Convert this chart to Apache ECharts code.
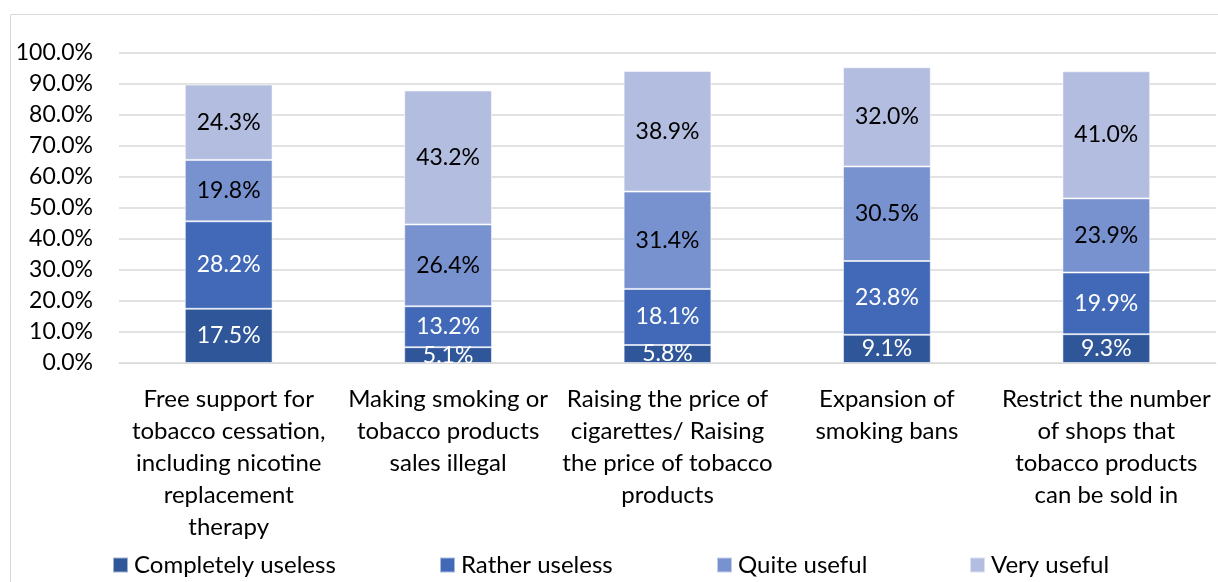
<!DOCTYPE html>
<html>
<head>
<meta charset="utf-8">
<script src="https://cdn.jsdelivr.net/npm/echarts@6/dist/echarts.min.js"></script>
<style>
  html, body { margin: 0; padding: 0; background: #fff; }
  #chart { width: 1218px; height: 582px; }
</style>
</head>
<body>
<div id="chart"></div>
<script>
// Categories (line breaks as shown under the axis)
const categories = [
  'Free support for\ntobacco cessation,\nincluding nicotine\nreplacement\ntherapy',
  'Making smoking or\ntobacco products\nsales illegal',
  'Raising the price of\ncigarettes/ Raising\nthe price of tobacco\nproducts',
  'Expansion of\nsmoking bans',
  'Restrict the number\nof shops that\ntobacco products\ncan be sold in'
];

// Share of respondents (%) per answer
const completelyUseless = [17.5, 5.1, 5.8, 9.1, 9.3];
const ratherUseless     = [28.2, 13.2, 18.1, 23.8, 19.9];
const quiteUseful       = [19.8, 26.4, 31.4, 30.5, 23.9];
const veryUseful        = [24.3, 43.2, 38.9, 32.0, 41.0];

const seriesNames = ['Completely useless', 'Rather useless', 'Quite useful', 'Very useful'];
const seriesData = [completelyUseless, ratherUseless, quiteUseful, veryUseful];
const seriesColors = ['#30569a', '#4169b7', '#7891cf', '#b2bddf'];
const labelColors = ['#ffffff', '#ffffff', '#000000', '#000000'];
const legendLeft = [112, 439, 716, 969];

const FONT = 'Lato';
const TEXT_SIZE = 24;
const NUM_SIZE = 23;
const chart = echarts.init(document.getElementById('chart'));

chart.setOption({
  animation: false,
  textStyle: { fontFamily: FONT },
  graphic: [{
    type: 'rect',
    shape: { x: 10.5, y: 14.5, width: 1230, height: 600 },
    style: { fill: 'none', stroke: '#d9d9d9', lineWidth: 1 },
    silent: true
  }],
  grid: { left: 119, right: 2, top: 53, bottom: 219, containLabel: false },
  legend: seriesNames.map((name, i) => ({
    data: [name],
    left: legendLeft[i],
    top: 553,
    padding: 0,
    itemWidth: 15,
    itemHeight: 15,
    itemGap: 0,
    icon: 'rect',
    textStyle: { fontFamily: FONT, fontSize: TEXT_SIZE, color: '#000', padding: [0, 0, 0, 1] }
  })),
  xAxis: {
    type: 'category',
    data: categories,
    axisLine: { show: true, lineStyle: { color: '#d9d9d9' } },
    axisTick: { show: false },
    axisLabel: {
      interval: 0,
      margin: 20,
      fontFamily: FONT,
      fontSize: TEXT_SIZE,
      lineHeight: 32,
      color: '#000',
      align: 'center',
      verticalAlign: 'top'
    }
  },
  yAxis: {
    type: 'value',
    min: 0,
    max: 100,
    interval: 10,
    axisLine: { show: false },
    axisTick: { show: false },
    splitLine: { show: true, lineStyle: { color: '#d9d9d9', width: 1.5 } },
    axisLabel: {
      margin: 26,
      fontFamily: FONT,
      fontSize: NUM_SIZE,
      color: '#000',
      formatter: v => v.toFixed(1) + '%'
    }
  },
  series: seriesNames.map((name, i) => ({
    name: name,
    type: 'bar',
    stack: 'total',
    barWidth: '40%',
    data: seriesData[i],
    itemStyle: { color: seriesColors[i], borderColor: 'rgba(255,255,255,0.55)', borderWidth: 1 },
    label: {
      show: true,
      position: 'inside',
      fontFamily: FONT,
      fontSize: NUM_SIZE,
      color: labelColors[i],
      formatter: p => p.value.toFixed(1) + '%'
    }
  }))
});
</script>
</body>
</html>
